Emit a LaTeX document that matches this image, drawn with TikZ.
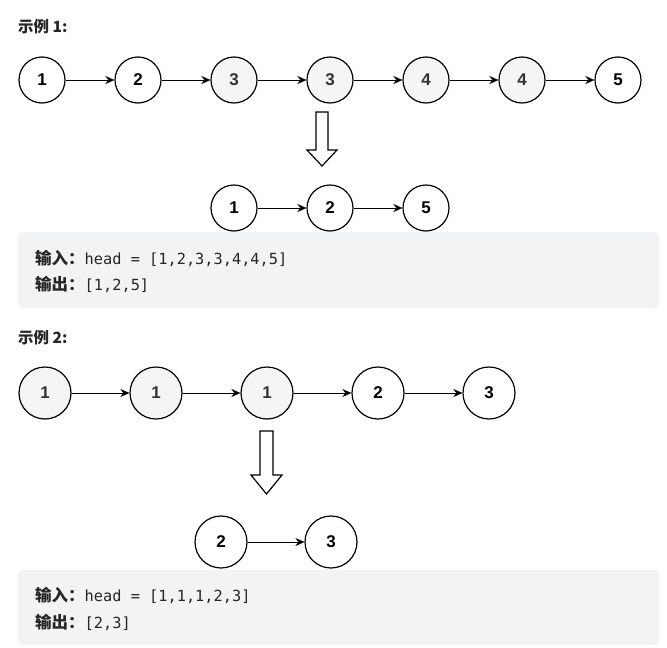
\documentclass[tikz,border=0pt]{standalone}
\usepackage{fontspec}
\setmainfont{Liberation Sans}
\newfontfamily\cjk{Noto Sans CJK SC}
\newfontfamily\codefont{DejaVu Sans Mono}
\usetikzlibrary{arrows.meta}

\definecolor{nodegray}{HTML}{F5F5F5}
\definecolor{boxgray}{HTML}{F2F3F5}
\definecolor{numgray}{HTML}{333333}
\definecolor{textdark}{HTML}{262626}

\begin{document}
\begin{tikzpicture}[x=1pt, y=-1pt, >={Stealth[length=9pt,width=8pt]},
	listnode/.style={circle, draw, line width=1.2pt, minimum size=46pt, inner sep=0pt, font=\fontsize{17}{17}\selectfont\bfseries},
	dupnode/.style={listnode, fill=nodegray, text=numgray},
	bignode/.style={minimum size=52pt},
	link/.style={->, line width=1pt},
	bigarrow/.style={draw, line width=1.2pt, fill=white, line join=miter},
	title/.style={anchor=west, inner sep=0pt, text=textdark, font=\cjk\fontsize{15.5}{16}\selectfont\bfseries},
	codebox/.style={fill=boxgray, rounded corners=4pt},
	codeline/.style={anchor=west, inner sep=0pt, text=textdark, font=\fontsize{15.3}{16}\selectfont}]
	\useasboundingbox (0,0) rectangle (667,648);
	% example 1
	\node[title] (t1) at (18,27) {示例 1:};
	\node[listnode] (a1) at (42,80) {1};
	\node[listnode] (a2) at (138,80) {2};
	\node[dupnode] (a3) at (234,80) {3};
	\node[dupnode] (a4) at (330,80) {3};
	\node[dupnode] (a5) at (426,80) {4};
	\node[dupnode] (a6) at (522,80) {4};
	\node[listnode] (a7) at (618,80) {5};
	\draw[link] (a1) -- (a2);
	\draw[link] (a2) -- (a3);
	\draw[link] (a3) -- (a4);
	\draw[link] (a4) -- (a5);
	\draw[link] (a5) -- (a6);
	\draw[link] (a6) -- (a7);
	\draw[bigarrow] (316,112) -- (328,112) -- (328,150) -- (337,150) -- (322,166) -- (307,150) -- (316,150) -- cycle;
	\node[listnode] (b1) at (234,208) {1};
	\node[listnode] (b2) at (330,208) {2};
	\node[listnode] (b3) at (426,208) {5};
	\draw[link] (b1) -- (b2);
	\draw[link] (b2) -- (b3);
	\fill[codebox] (18,232) rectangle (659,308);
	\node[codeline] (in1) at (35,258) {{\cjk\bfseries\fontsize{16.5}{17}\selectfont 输入：}{\codefont head = [1,2,3,3,4,4,5]}};
	\node[codeline] (out1) at (35,284) {{\cjk\bfseries\fontsize{16.5}{17}\selectfont 输出：}{\codefont [1,2,5]}};
	% example 2
	\node[title] (t2) at (18,338) {示例 2:};
	\node[dupnode, bignode] (c1) at (45,393) {1};
	\node[dupnode, bignode] (c2) at (156,393) {1};
	\node[dupnode, bignode] (c3) at (267,393) {1};
	\node[listnode, bignode] (c4) at (378,393) {2};
	\node[listnode, bignode] (c5) at (489,393) {3};
	\draw[link] (c1) -- (c2);
	\draw[link] (c2) -- (c3);
	\draw[link] (c3) -- (c4);
	\draw[link] (c4) -- (c5);
	\draw[bigarrow] (260,431) -- (273,431) -- (273,475) -- (282,475) -- (266.5,494) -- (251,475) -- (260,475) -- cycle;
	\node[listnode, bignode] (d1) at (221,542) {2};
	\node[listnode, bignode] (d2) at (331,542) {3};
	\draw[link] (d1) -- (d2);
	\fill[codebox] (18,570) rectangle (659,645);
	\node[codeline] (in2) at (35,595) {{\cjk\bfseries\fontsize{16.5}{17}\selectfont 输入：}{\codefont head = [1,1,1,2,3]}};
	\node[codeline] (out2) at (35,622) {{\cjk\bfseries\fontsize{16.5}{17}\selectfont 输出：}{\codefont [2,3]}};
\end{tikzpicture}
\end{document}
